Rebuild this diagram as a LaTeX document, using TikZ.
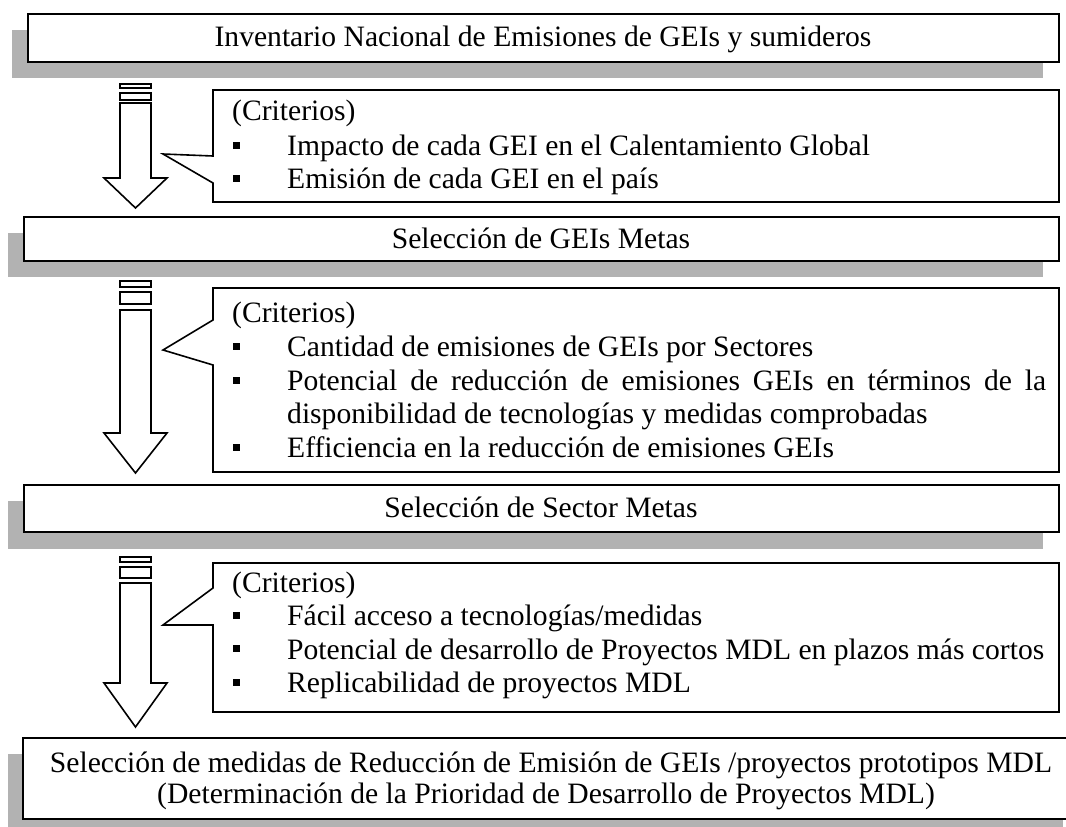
\documentclass[tikz,border=0pt]{standalone}
\usepackage{fontspec}
\setmainfont{Liberation Serif}
\definecolor{shadowgray}{RGB}{178,178,178}
\begin{document}
\begin{tikzpicture}[x=1pt,y=-1pt,
  txt/.style={inner sep=0pt, font=\fontsize{29.6}{34}\selectfont},
  item/.style={txt, anchor=base west},
  ctr/.style={txt, anchor=base},
  boxline/.style={draw=black, line width=1.6pt, fill=white},
  shade/.style={fill=shadowgray, draw=none},
  bul/.style={fill=black, draw=none}]
\useasboundingbox (0,0) rectangle (1066,827);

% ---------- Box 1 ----------
\fill[shade] (12,30) rectangle (1043,78);
\draw[boxline] (28,14) rectangle (1059,62);
\node[ctr] (t1) at (543,46) {Inventario Nacional de Emisiones de GEIs y sumideros};

% ---------- Arrow 1 ----------
\draw[boxline] (120,84) rectangle (151,88);
\draw[boxline] (120,93) rectangle (151,100);
\draw[boxline] (120,103) -- (120,178) -- (104,178) -- (135.5,208) -- (167,178) -- (151,178) -- (151,103) -- cycle;

% ---------- Callout 1 ----------
\draw[boxline] (213,90) -- (1059,90) -- (1059,202) -- (213,202) -- (213,183) -- (163,154) -- (213,156) -- cycle;
\node[item] (c1h) at (232,120) {(Criterios)};
\fill[bul] (233,142) rectangle (240,149);
\node[item] (c1a) at (287,155) {Impacto de cada GEI en el Calentamiento Global};
\fill[bul] (233,175) rectangle (240,182);
\node[item] (c1b) at (287,188) {Emisión de cada GEI en el país};

% ---------- Box 2 ----------
\fill[shade] (8,233) rectangle (1043,277);
\draw[boxline] (24,217) rectangle (1059,261);
\node[ctr] (t2) at (541,248) {Selección de GEIs Metas};

% ---------- Arrow 2 ----------
\draw[boxline] (120,281) rectangle (151,287);
\draw[boxline] (120,292) rectangle (151,304);
\draw[boxline] (120,310) -- (120,433) -- (104,433) -- (135.5,473) -- (167,433) -- (151,433) -- (151,310) -- cycle;

% ---------- Callout 2 ----------
\draw[boxline] (213,288) -- (1059,288) -- (1059,472) -- (213,472) -- (213,365) -- (163,350) -- (213,320) -- cycle;
\node[item] (c2h) at (232,322) {(Criterios)};
\fill[bul] (233,343) rectangle (240,350);
\node[item] (c2a) at (287,356) {Cantidad de emisiones de GEIs por Sectores};
\fill[bul] (233,377) rectangle (240,384);
\node[item] (c2b) at (287,390) {\makebox[759pt][s]{Potencial de reducción de emisiones GEIs en términos de la}};
\node[item] (c2c) at (287,423) {disponibilidad de tecnologías y medidas comprobadas};
\fill[bul] (233,444) rectangle (240,451);
\node[item] (c2d) at (287,457) {Efficiencia en la reducción de emisiones GEIs};

% ---------- Box 3 ----------
\fill[shade] (8,501) rectangle (1043,549);
\draw[boxline] (24,485) rectangle (1059,532);
\node[ctr] (t3) at (541,517) {Selección de Sector Metas};

% ---------- Arrow 3 ----------
\draw[boxline] (120,557) rectangle (151,562);
\draw[boxline] (120,567) rectangle (151,578);
\draw[boxline] (120,583) -- (120,683) -- (104,683) -- (135.5,727) -- (167,683) -- (151,683) -- (151,583) -- cycle;

% ---------- Callout 3 ----------
\draw[boxline] (213,563) -- (1059,563) -- (1059,712) -- (213,712) -- (213,625) -- (163,625) -- (213,588) -- cycle;
\node[item] (c3h) at (232,592) {(Criterios)};
\fill[bul] (233,612) rectangle (240,619);
\node[item] (c3a) at (287,625) {Fácil acceso a tecnologías/medidas};
\fill[bul] (233,645) rectangle (240,652);
\node[item] (c3b) at (287,659) {Potencial de desarrollo de Proyectos MDL en plazos más cortos};
\fill[bul] (233,679) rectangle (240,686);
\node[item] (c3c) at (287,692) {Replicabilidad de proyectos MDL};

% ---------- Box 4 ----------
\fill[shade] (8,754) rectangle (1063,835);
\draw[boxline] (23,738) rectangle (1080,819);
\node[ctr] (t4a) at (551,772) {Selección de medidas de Reducción de Emisión de GEIs /proyectos prototipos MDL};
\node[ctr] (t4b) at (546,803) {(Determinación de la Prioridad de Desarrollo de Proyectos MDL)};
\end{tikzpicture}
\end{document}
